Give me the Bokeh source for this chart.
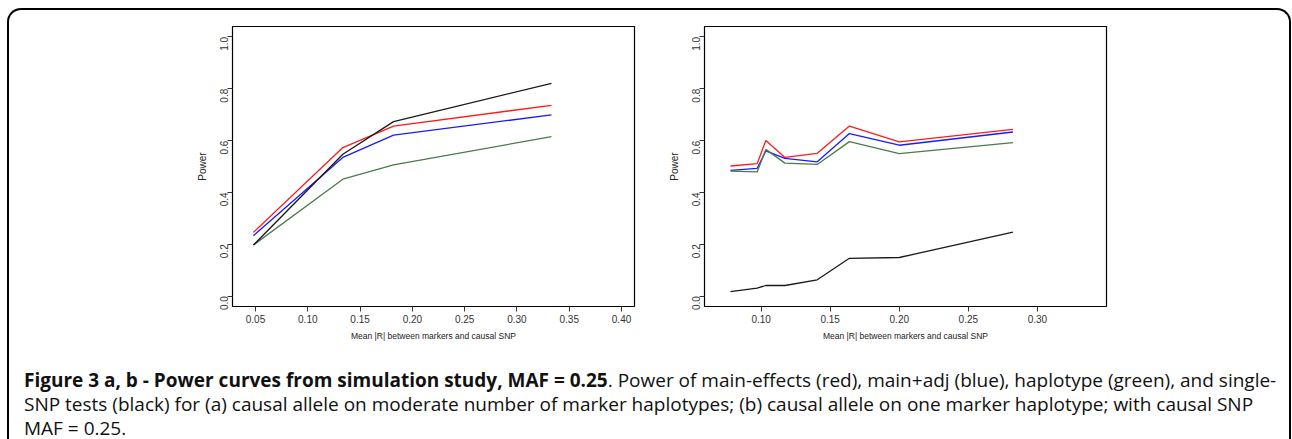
import math
from bokeh.plotting import figure
from bokeh.models import FixedTicker, Range1d, Spacer, Div, NumeralTickFormatter
from bokeh.layouts import row, column
from bokeh.embed import file_html
from bokeh.resources import INLINE

# ---- Data: panel (a) causal allele on moderate number of marker haplotypes
a_x = [0.048, 0.1335, 0.182, 0.333]
a_main = [0.246, 0.573, 0.656, 0.736]     # main-effects (red)
a_adj = [0.233, 0.535, 0.621, 0.699]      # main+adj (blue)
a_hap = [0.197, 0.451, 0.506, 0.615]      # haplotype (green)
a_single = [0.197, 0.547, 0.673, 0.821]   # single-SNP (black)

# ---- Data: panel (b) causal allele on one marker haplotype
b_x = [0.0778, 0.0971, 0.1034, 0.1172, 0.1406, 0.1639, 0.2000, 0.2823]
b_main = [0.502, 0.511, 0.600, 0.535, 0.551, 0.656, 0.595, 0.643]
b_adj = [0.485, 0.493, 0.560, 0.531, 0.518, 0.627, 0.582, 0.633]
b_hap = [0.482, 0.479, 0.566, 0.513, 0.508, 0.596, 0.550, 0.592]
b_single = [0.017, 0.031, 0.041, 0.041, 0.063, 0.146, 0.149, 0.247]

a_xticks = [0.05, 0.10, 0.15, 0.20, 0.25, 0.30, 0.35, 0.40]
b_xticks = [0.10, 0.15, 0.20, 0.25, 0.30]
y_ticks = [0.0, 0.2, 0.4, 0.6, 0.8, 1.0]

x_title = "Mean |R| between markers and causal SNP"
y_title = "Power"

COLORS = {"main": "#ff1a1a", "adj": "#1a1aff", "hap": "#4c7a4c", "single": "#1a1a1a"}


def make_panel(xr, xticks, xs, series):
    p = figure(output_backend="svg", toolbar_location=None,
               frame_width=402, frame_height=280,
               min_border_left=60, min_border_right=10,
               min_border_top=16, min_border_bottom=40,
               x_range=Range1d(*xr), y_range=Range1d(-0.04, 1.04),
               background_fill_color="white", border_fill_color="white")
    p.xgrid.visible = False
    p.ygrid.visible = False
    p.outline_line_color = "black"
    p.outline_line_width = 1.2
    for key in ["main", "adj", "hap", "single"]:
        p.line(xs, series[key], line_color=COLORS[key], line_width=1.3)
    for ax in (p.xaxis[0], p.yaxis[0]):
        ax.axis_line_color = None
        ax.major_tick_out = 5
        ax.major_tick_in = 0
        ax.minor_tick_line_color = None
        ax.major_tick_line_color = "#333333"
        ax.major_label_text_font = "Liberation Sans"
        ax.major_label_text_font_size = "10px"
        ax.major_label_text_color = "#333333"
        ax.axis_label_text_font = "Liberation Sans"
        ax.axis_label_text_font_style = "normal"
        ax.axis_label_text_color = "#222222"
        ax.major_label_standoff = 3
    p.xaxis.ticker = FixedTicker(ticks=xticks)
    p.xaxis.formatter = NumeralTickFormatter(format="0.00")
    p.yaxis.ticker = FixedTicker(ticks=y_ticks)
    p.yaxis.formatter = NumeralTickFormatter(format="0.0")
    p.yaxis.major_label_orientation = math.pi / 2
    p.xaxis.axis_label = x_title
    p.xaxis.axis_label_text_font_size = "8.5px"
    p.xaxis.axis_label_standoff = 5
    p.yaxis.axis_label = y_title
    p.yaxis.axis_label_text_font_size = "10px"
    p.yaxis.axis_label_standoff = 6
    return p


p1 = make_panel((0.028, 0.4124), a_xticks, a_x,
                {"main": a_main, "adj": a_adj, "hap": a_hap, "single": a_single})
p2 = make_panel((0.059, 0.3500), b_xticks, b_x,
                {"main": b_main, "adj": b_adj, "hap": b_hap, "single": b_single})

caption_html = (
    "<b>Figure 3 a, b - Power curves from simulation study, MAF = 0.25</b>. "
    "Power of main-effects (red), main+adj (blue), haplotype (green), and single-<br>"
    "SNP tests (black) for (a) causal allele on moderate number of marker haplotypes; "
    "(b) causal allele on one marker haplotype; with causal SNP<br>"
    "MAF = 0.25."
)
caption = Div(text=caption_html, width=1270, height=84,
              styles={"font-family": "'Open Sans'", "font-size": "19px",
                      "line-height": "24px", "color": "#111111",
                      "padding-left": "10px", "padding-top": "16px",
                      "white-space": "nowrap", "box-sizing": "border-box",
                      "overflow": "visible"})

top = row(Spacer(width=163, height=337), p1, p2)
layout = column(top, caption,
                styles={"border-top": "2px solid black",
                        "border-left": "2px solid black",
                        "border-right": "2px solid black",
                        "border-top-left-radius": "14px",
                        "border-top-right-radius": "14px",
                        "margin-left": "7px", "margin-top": "8px",
                        "background": "white"})

open("out.html", "w").write(file_html(layout, INLINE))
